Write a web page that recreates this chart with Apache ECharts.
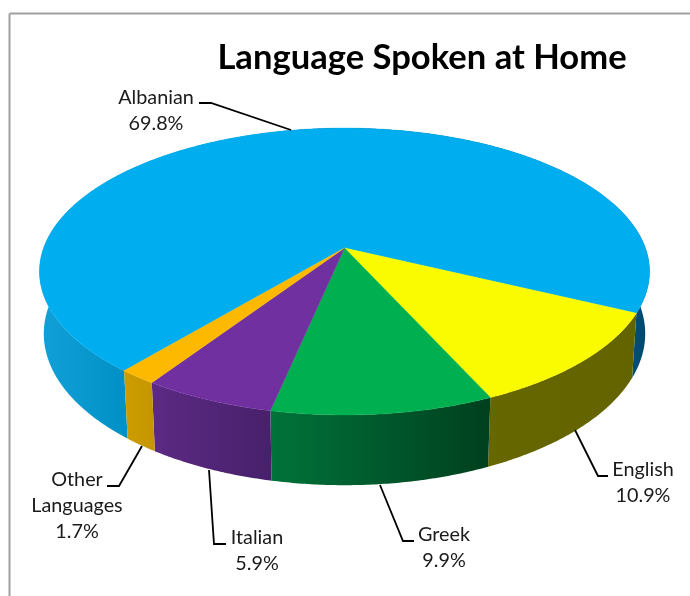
<!DOCTYPE html>
<html>
<head>
<meta charset="utf-8">
<style>html,body{margin:0;padding:0;background:#fff}#c{width:690px;height:596px}</style>
<script src="https://cdn.jsdelivr.net/npm/echarts@6/dist/echarts.min.js"></script>
</head>
<body>
<div id="c"></div>
<script>
const titleText = 'Language Spoken at Home';
const categories = ['Albanian', 'English', 'Greek', 'Italian', 'Other\nLanguages'];
const shares = [69.8, 10.9, 9.9, 5.9, 1.7];
const shareLabels = ['69.8%', '10.9%', '9.9%', '5.9%', '1.7%'];
const topColors = ['#00AEEF', '#FBFB00', '#00B050', '#7030A0', '#FDB900'];

// wall shading: [screen x, colour] pairs along the chart width
const wallShades = [
  [[39, '#12a0d8'], [128, '#0090c5'], [300, '#0090c5'], [301, '#005078'], [630, '#005078'], [649, '#00476b']],
  [[486, '#676700'], [635, '#636300']],
  [[269, '#00733a'], [380, '#00592c'], [489, '#00401e']],
  [[150, '#5c2a84'], [271, '#47206b']],
  [[123, '#cc9c00'], [155, '#c69600']]
];
// label layout: centre x, first line y, leader polyline
const labelLayout = [
  {x: 156, y: 98,  line: [[199, 103], [211, 103], [291, 130]]},
  {x: 643, y: 470, line: [[575, 430], [598, 476], [608, 476]]},
  {x: 444, y: 535, line: [[380, 485], [403, 541], [414, 541]]},
  {x: 257, y: 538, line: [[209, 470], [214, 544], [226, 544]]},
  {x: 77,  y: 480, line: [[142, 446], [119, 486], [107, 486]]}
];

// projection of the tilted disc
const P = {x0: 344.5, y0: 248, A: 300.9, B: 139.6, c: 0.164, e: 0.014, D: 62};
const START = 39.8;
const total = shares.reduce((a, b) => a + b, 0);
const DEG = Math.PI / 180;

function rim(tDeg, z) {
  const t = tDeg * DEG, u = -Math.sin(t), v = Math.cos(t);
  const w = 1 - P.c * v + P.e * z;
  return [P.x0 + P.A * u / w, P.y0 + (P.B * v + P.D * z) / w];
}
function span(i) {
  let a = START;
  for (let k = 0; k < i; k++) a += shares[k] / total * 360;
  return [a, a + shares[i] / total * 360];
}
function arc(a, b, z) {
  const pts = [], n = Math.max(2, Math.ceil((b - a) / 0.5));
  for (let i = 0; i <= n; i++) pts.push(rim(a + (b - a) * i / n, z));
  return pts;
}
function wallFill(stops) {
  const x0 = stops[0][0], x1 = stops[stops.length - 1][0];
  return {type: 'linear', x: x0, y: 0, x2: x1, y2: 0, global: true,
    colorStops: stops.map(s => ({offset: (s[0] - x0) / (x1 - x0), color: s[1]}))};
}

const seriesData = categories.map((name, i) => ({name: name, value: shares[i]}));

const option = {
  animation: false,
  backgroundColor: '#fff',
  title: {
    text: titleText, left: 417, top: 35, textAlign: 'center',
    textStyle: {fontFamily: 'Lato', fontWeight: 'bold', fontSize: 34.6, color: '#000'}
  },
  graphic: [
    {type: 'line', shape: {x1: 9.5, y1: 13.5, x2: 690, y2: 13.5}, style: {stroke: '#a0a0a0', lineWidth: 2}},
    {type: 'line', shape: {x1: 9.5, y1: 13.5, x2: 9.5, y2: 596}, style: {stroke: '#a0a0a0', lineWidth: 2}}
  ],
  series: [
    {
      name: 'walls', type: 'custom', coordinateSystem: 'none', z: 1, silent: true, data: seriesData,
      renderItem(params) {
        const [a, b] = span(params.dataIndex);
        const pts = arc(a, b, 0).concat(arc(a, b, 1).reverse());
        return {type: 'polygon', shape: {points: pts}, style: {fill: wallFill(wallShades[params.dataIndex])}};
      }
    },
    {
      name: 'tops', type: 'custom', coordinateSystem: 'none', z: 2, silent: true, data: seriesData,
      renderItem(params) {
        const [a, b] = span(params.dataIndex);
        const c = topColors[params.dataIndex];
        const pts = [[P.x0, P.y0]].concat(arc(a, b, 0));
        return {type: 'polygon', shape: {points: pts}, style: {fill: c, stroke: c, lineWidth: 0.4}};
      }
    },
    {
      name: 'labels', type: 'custom', coordinateSystem: 'none', z: 3, silent: true, data: seriesData,
      renderItem(params) {
        const i = params.dataIndex, L = labelLayout[i];
        const lines = categories[i].split('\n').concat(shareLabels[i]);
        const children = [{
          type: 'polyline', shape: {points: L.line},
          style: {stroke: '#000', lineWidth: 1.8, fill: 'none'}
        }];
        lines.forEach((t, k) => children.push({
          type: 'text',
          style: {
            x: L.x, y: L.y + k * 26, text: t, align: 'center', verticalAlign: 'middle',
            font: '19.8px Lato', fill: '#1a1a1a'
          }
        }));
        return {type: 'group', children: children};
      }
    }
  ]
};
echarts.init(document.getElementById('c'), null, {renderer: 'canvas'}).setOption(option);
</script>
</body>
</html>
